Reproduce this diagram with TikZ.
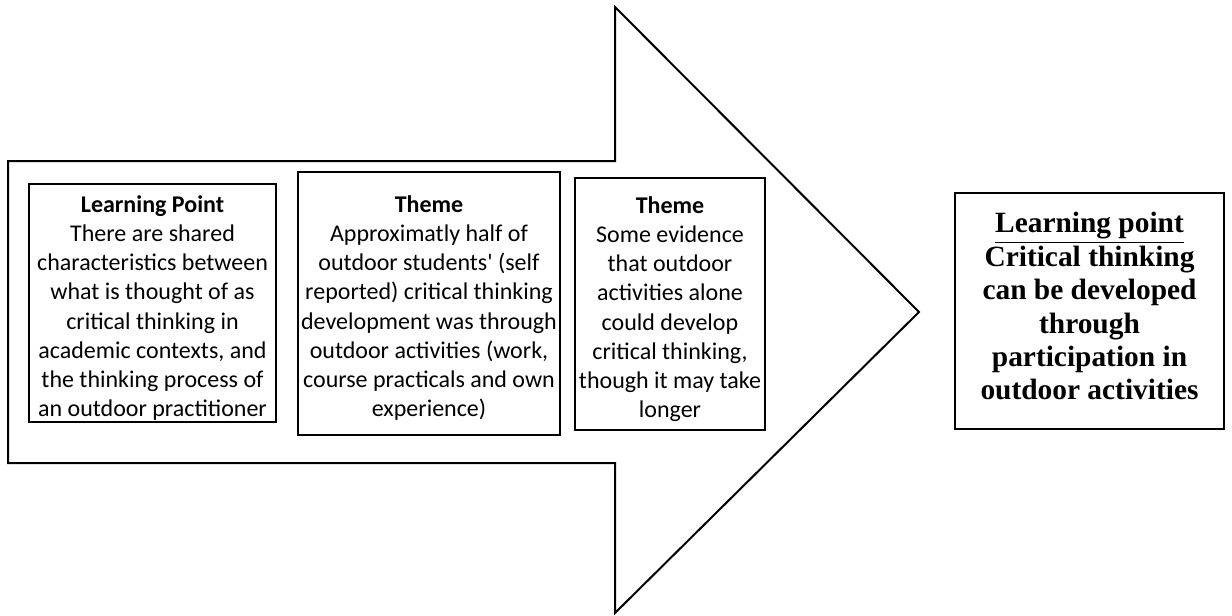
\documentclass[tikz,border=0pt]{standalone}
\usepackage{fontspec}
\setmainfont{Carlito}
\newfontfamily\tnr{Liberation Serif}
\tikzset{
  arrowshape/.style={draw=black, line width=1pt, line join=miter},
  boxframe/.style={draw=black, line width=0.8pt, rectangle, inner sep=0pt},
  boxtext/.style={anchor=north, inner sep=0pt, align=center, font=\fontsize{12pt}{14.6pt}\selectfont},
  lptext/.style={anchor=north, inner sep=0pt, align=center, font=\tnr\bfseries\fontsize{14.7pt}{16.7pt}\selectfont},
}
\begin{document}
\begin{tikzpicture}[x=0.5pt,y=-0.5pt]
\useasboundingbox (0,0) rectangle (1232,616);
% big arrow
\draw[arrowshape] (8,161) -- (615,161) -- (615,7) -- (919,312) -- (615,613) -- (615,463) -- (8,463) -- cycle;
% boxes
\node[boxframe, minimum width=123.5pt, minimum height=119pt] (b1) at (152.5,303) {};
\node[boxframe, minimum width=131pt, minimum height=131.5pt] (b2) at (429,303.5) {};
\node[boxframe, minimum width=95pt, minimum height=126pt] (b3) at (670,304) {};
\node[boxframe, minimum width=134.5pt, minimum height=118pt] (b4) at (1089.5,311) {};
% texts
\node[boxtext] (t1) at (152.5,195) {\textbf{Learning Point}\\There are shared\\characteristics between\\what is thought of as\\critical thinking in\\academic contexts, and\\the thinking process of\\an outdoor practitioner};
\node[boxtext] (t2) at (429,195) {\textbf{Theme}\\Approximatly half of\\outdoor students\textquotesingle{} (self\\reported) critical thinking\\development was through\\outdoor activities (work,\\course practicals and own\\experience)};
\node[boxtext] (t3) at (670,196) {\textbf{Theme}\\Some evidence\\that outdoor\\activities alone\\could develop\\critical thinking,\\though it may take\\longer};
\node[lptext] (t4) at (1089.5,212) {\underline{Learning point}\\Critical thinking\\can be developed\\through\\participation in\\outdoor activities};
\end{tikzpicture}
\end{document}
